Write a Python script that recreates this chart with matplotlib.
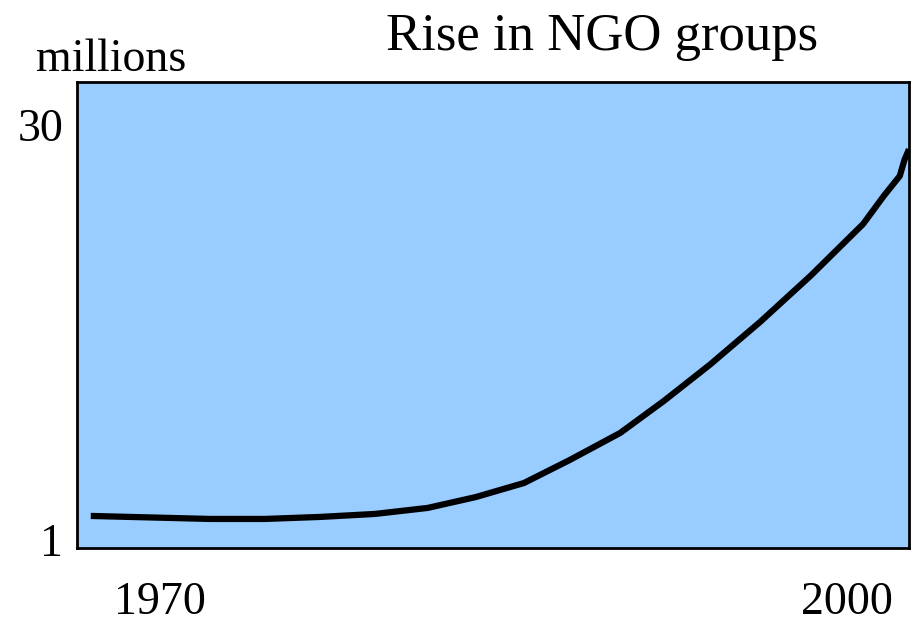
import matplotlib.pyplot as plt

plt.rcParams['font.family'] = ['Liberation Serif', 'DejaVu Serif']

# values (year, millions)
years = [1967.0, 1972.2, 1974.6, 1977.0, 1979.4, 1981.7, 1983.8, 1985.9,
         1987.9, 1990.1, 1992.0, 1994.0, 1996.2, 1998.4, 2000.7, 2001.6,
         2002.3, 2002.5, 2002.7]
ngos = [2.68, 2.47, 2.47, 2.61, 2.82, 3.24, 4.0, 4.98,
        6.59, 8.48, 10.71, 13.23, 16.23, 19.45, 23.08, 25.04,
        26.44, 27.55, 28.3]
ytick_vals = [1, 30]
xtick_vals = [1970, 2000]

W, H = 917, 622
fig = plt.figure(figsize=(W / 100, H / 100), dpi=100)
ax = fig.add_axes([77 / W, 1 - 548 / H, (909 - 77) / W, (548 - 82) / H])
ax.set_facecolor('#99ccff')

ax.plot(years, ngos, color='black', linewidth=4.5, solid_capstyle='butt')

ax.set_xlim(1966.4, 2002.7)
ax.set_ylim(0.44, 33.0)

ax.set_yticks(ytick_vals)
ax.set_yticklabels([str(v) for v in ytick_vals])
ax.set_xticks(xtick_vals)
ax.set_xticklabels([str(v) for v in xtick_vals])
ax.tick_params(axis='y', length=0, pad=10, labelsize=33)
ax.tick_params(axis='x', length=0, pad=24, labelsize=33)

for s in ax.spines.values():
    s.set_linewidth(2)
    s.set_color('black')

fig.text(602 / W, 1 - 37 / H, 'Rise in NGO groups', ha='center', va='center', fontsize=38)
fig.text(111 / W, 1 - 60 / H, 'millions', ha='center', va='center', fontsize=33)

fig.savefig('out.png', dpi=100)
